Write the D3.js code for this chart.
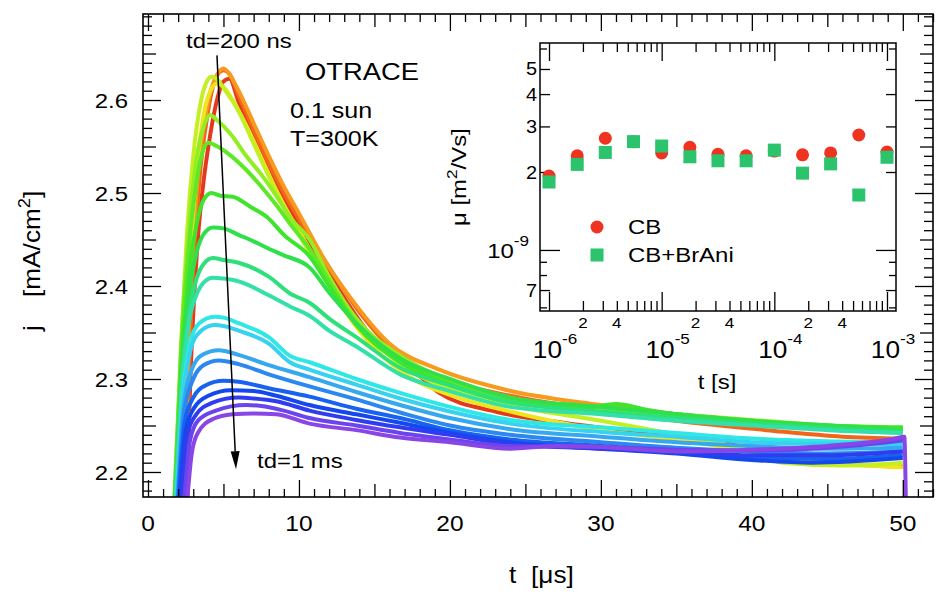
<!DOCTYPE html>
<html>
<head>
<meta charset="utf-8">
<script src="https://cdn.jsdelivr.net/npm/d3@7"></script>
<style>
body { margin: 0; background: #fff; }
text { font-family: "Liberation Sans", Arial, Helvetica, sans-serif; fill: #000; }
</style>
</head>
<body>
<div id="chart"></div>
<script>
// transient photocurrent, one trace per delay time td (200 ns ... 1 ms)
var curveColors = ["#e5391b", "#f2661c", "#f79a1e", "#f0e41f", "#c4f021", "#92ee22", "#5fe824",
    "#3fe42c", "#2fe04a", "#2ee07a", "#32e0a8", "#2ee8e6", "#37d2f0", "#35a8ef", "#2a88f0",
    "#1862f0", "#1448ef", "#2f3cf0", "#6a45ee", "#8a45e6"]

var curves = [
  [[2.62,2.17],[2.75,2.27],[3.0,2.37],[3.3,2.45],[3.7,2.515],[4.0,2.55],[4.5,2.595],[5.0,2.62],[5.4,2.623],[6,2.598],[7,2.56],[8,2.525],[9,2.495],[10,2.467],[12,2.413],[14.7,2.348],[17.8,2.306],[19.3,2.285],[23,2.265],[27.5,2.253],[33,2.242],[38,2.232],[41,2.22],[45,2.21],[50,2.206]],
  [[2.5,2.17],[2.75,2.32],[3.0,2.42],[3.5,2.53],[4.0,2.59],[4.5,2.624],[5.0,2.632],[5.4,2.628],[6,2.605],[7,2.568],[8,2.532],[9,2.50],[10,2.472],[12,2.42],[14,2.372],[16,2.335],[18,2.312],[20,2.298],[24,2.282],[30,2.266],[35,2.255],[41,2.245],[46,2.238],[50,2.236]],
  [[2.4,2.17],[2.7,2.35],[3.0,2.45],[3.5,2.55],[4.0,2.60],[4.6,2.628],[5.0,2.634],[5.5,2.625],[6,2.61],[7,2.575],[8,2.54],[9,2.507],[10,2.478],[12,2.42],[13.2,2.392],[16,2.338],[19.3,2.31],[23.8,2.288],[30,2.272],[35,2.262],[40,2.253],[45,2.247],[50,2.245]],
  [[2.2,2.17],[2.45,2.30],[2.7,2.40],[3.2,2.52],[3.7,2.585],[4.2,2.612],[4.6,2.618],[5.0,2.614],[5.5,2.603],[6.5,2.573],[7.5,2.538],[8.5,2.503],[9.4,2.475],[10.5,2.445],[12,2.40],[14,2.352],[16,2.318],[18,2.296],[20,2.283],[24,2.265],[30,2.245],[35,2.235],[40,2.222],[45,2.21],[50,2.205]],
  [[1.8,2.17],[2.2,2.33],[2.6,2.46],[3.0,2.54],[3.5,2.598],[3.9,2.62],[4.2,2.625],[4.6,2.622],[5,2.613],[6,2.588],[7,2.553],[8,2.518],[9,2.485],[10,2.455],[12,2.405],[14,2.36],[16,2.325],[18,2.303],[20,2.29],[24,2.272],[30,2.255],[35,2.24],[40,2.222],[42,2.21],[46,2.207],[50,2.21]],
  [[1.75,2.17],[2.2,2.34],[2.7,2.46],[3.2,2.535],[3.7,2.572],[4.1,2.584],[4.6,2.578],[5.5,2.563],[6.5,2.54],[7.5,2.52],[8.5,2.497],[9.5,2.472],[10.7,2.45],[12,2.41],[13.8,2.365],[16.7,2.325],[20,2.298],[24,2.28],[30,2.268],[35,2.262],[40,2.256],[45,2.25],[50,2.246]],
  [[1.75,2.17],[2.2,2.33],[2.7,2.44],[3.2,2.51],[3.6,2.543],[4.0,2.554],[4.6,2.55],[5.5,2.54],[6.5,2.525],[7.5,2.507],[8.5,2.487],[9.5,2.465],[10.7,2.44],[12,2.405],[13.8,2.36],[16.7,2.322],[20,2.296],[24,2.278],[30,2.27],[35,2.262],[40,2.255],[45,2.25],[50,2.247]],
  [[1.8,2.17],[2.2,2.31],[2.7,2.41],[3.2,2.465],[3.7,2.493],[4.2,2.50],[4.8,2.497],[5.6,2.496],[6.8,2.485],[7.9,2.474],[9,2.455],[10.7,2.432],[12,2.40],[13.8,2.358],[16.7,2.318],[20,2.294],[24,2.275],[29,2.269],[31,2.273],[33,2.267],[40,2.254],[45,2.25],[50,2.248]],
  [[1.8,2.17],[2.2,2.30],[2.7,2.39],[3.2,2.435],[3.7,2.456],[4.3,2.463],[5,2.462],[6,2.455],[7,2.448],[8,2.44],[9,2.433],[10.7,2.42],[12,2.393],[13.8,2.36],[16.7,2.322],[20,2.3],[24,2.28],[30,2.27],[35,2.262],[40,2.255],[45,2.25],[50,2.245]],
  [[1.85,2.17],[2.2,2.29],[2.7,2.37],[3.2,2.407],[3.7,2.424],[4.3,2.43],[5,2.428],[6,2.425],[8,2.41],[9.4,2.392],[10.7,2.382],[12,2.365],[13.8,2.345],[16.7,2.312],[20,2.293],[24,2.275],[30,2.265],[35,2.258],[40,2.252],[45,2.247],[50,2.243]],
  [[1.85,2.17],[2.2,2.28],[2.7,2.36],[3.2,2.39],[3.7,2.404],[4.3,2.409],[5,2.408],[6,2.405],[8,2.39],[9.4,2.378],[10.7,2.368],[12,2.352],[13.8,2.335],[16.7,2.305],[20,2.287],[24,2.27],[30,2.262],[35,2.255],[40,2.25],[45,2.245],[50,2.242]],
  [[1.9,2.17],[2.3,2.28],[2.8,2.34],[3.4,2.36],[4.4,2.367],[5,2.366],[6,2.36],[8,2.345],[9.4,2.325],[10.7,2.318],[13.8,2.30],[16.7,2.285],[20,2.27],[24,2.256],[30,2.248],[35,2.242],[40,2.236],[45,2.233],[50,2.232]],
  [[1.9,2.17],[2.3,2.275],[2.8,2.33],[3.4,2.35],[4.4,2.358],[5,2.357],[6,2.352],[8,2.338],[9.4,2.318],[10.7,2.31],[13.8,2.294],[16.7,2.279],[20,2.265],[24,2.252],[30,2.243],[35,2.238],[40,2.232],[45,2.23],[50,2.23]],
  [[1.95,2.17],[2.35,2.27],[2.9,2.31],[3.6,2.326],[4.7,2.331],[6,2.326],[8,2.315],[10.7,2.302],[13.8,2.286],[16.7,2.272],[20,2.258],[24,2.246],[30,2.238],[35,2.232],[40,2.228],[45,2.225],[50,2.226]],
  [[2.0,2.17],[2.4,2.265],[3.0,2.30],[3.7,2.315],[4.7,2.32],[6,2.316],[8,2.305],[10.7,2.292],[13.8,2.278],[16.7,2.264],[20,2.25],[24,2.24],[30,2.232],[35,2.226],[40,2.222],[45,2.22],[50,2.222]],
  [[2.0,2.17],[2.45,2.255],[3.0,2.28],[3.8,2.293],[5.0,2.298],[6,2.297],[8,2.29],[10.7,2.281],[13.8,2.268],[16.7,2.258],[20,2.245],[24,2.235],[30,2.228],[35,2.222],[40,2.216],[45,2.214],[50,2.218]],
  [[2.1,2.17],[2.5,2.245],[3.1,2.27],[4.0,2.282],[5.5,2.288],[7,2.287],[8.5,2.282],[10.7,2.272],[13.8,2.262],[16.7,2.253],[20,2.242],[24,2.232],[30,2.225],[35,2.22],[40,2.213],[44,2.21],[50,2.215]],
  [[2.2,2.17],[2.6,2.24],[3.2,2.262],[4.2,2.274],[6.0,2.28],[7,2.279],[8.5,2.276],[10.7,2.266],[13.8,2.256],[16.7,2.248],[20,2.24],[24,2.23],[30,2.225],[35,2.222],[40,2.218],[45,2.218],[50,2.222]],
  [[2.4,2.17],[2.8,2.235],[3.3,2.255],[4.5,2.266],[6.5,2.272],[7.5,2.271],[9,2.266],[10.7,2.258],[13.8,2.25],[16.7,2.242],[20,2.235],[24,2.228],[30,2.227],[35,2.224],[40,2.223],[45,2.226],[49,2.232],[50,2.234]],
  [[2.6,2.17],[2.9,2.22],[3.3,2.242],[4.3,2.257],[5.6,2.262],[7.0,2.263],[8.5,2.262],[10.7,2.252],[13.8,2.245],[16.7,2.237],[20,2.232],[24,2.225],[27,2.228],[30,2.227],[35,2.222],[40,2.224],[45,2.228],[49.5,2.236],[50.1,2.238],[50.2,2.17]]
]

// inset: mobility vs delay time
var insetT = [1e-6, 1.78e-6, 3.16e-6, 5.62e-6, 1e-5, 1.78e-5, 3.16e-5, 5.62e-5, 1e-4, 1.78e-4, 3.16e-4, 5.62e-4, 1e-3]
var muCB = [1.93e-9, 2.31e-9, 2.70e-9, 2.62e-9, 2.37e-9, 2.49e-9, 2.34e-9, 2.31e-9, 2.41e-9, 2.33e-9, 2.37e-9, 2.78e-9, 2.39e-9]
var muBrAni = [1.83e-9, 2.14e-9, 2.38e-9, 2.62e-9, 2.52e-9, 2.29e-9, 2.21e-9, 2.21e-9, 2.43e-9, 1.98e-9, 2.15e-9, 1.63e-9, 2.28e-9]

var xTickLabels = [0, 10, 20, 30, 40, 50]
var yTickLabels = [2.2, 2.3, 2.4, 2.5, 2.6]
var insetYLabels = [[7e-10, "7"], [2e-9, "2"], [3e-9, "3"], [4e-9, "4"], [5e-9, "5"]]
var insetDecades = [1e-6, 1e-5, 1e-4, 1e-3]

var width = 939, height = 595
var sx = 1.14   // the lettering in the figure is a bit wide

var svg = d3.select("#chart").append("svg")
    .attr("width", width).attr("height", height)
svg.append("rect").attr("width", width).attr("height", height).style("fill", "white")

function label(parent, x, y, str, o) {
  o = o || {}
  var t = parent.append("text")
      .attr("transform", "translate(" + x + "," + y + ")" + (o.rotate ? " rotate(" + o.rotate + ")" : "") + " scale(" + sx + ",1)")
      .attr("text-anchor", o.anchor || "start")
      .style("font-size", (o.size || 21) + "px")
  var parts = str.split(/\^\{|\}/)
  var rise = o.rise || 9
  parts.forEach(function(p, i) {
    if (p === "") return
    var ts = t.append("tspan").text(p)
    if (i % 2 == 1) {
      ts.attr("dy", -rise).style("font-size", (o.supSize || 15) + "px")
    } else if (i > 0) {
      ts.attr("dy", rise)
    }
  })
  return t
}

// ---------- main plot ----------
var x = d3.scaleLinear().domain([-0.33, 52]).range([143, 933])
var y = d3.scaleLinear().domain([2.1731, 2.6925]).range([497, 14])

svg.append("clipPath").attr("id", "plotClip").append("rect")
    .attr("x", 143).attr("y", 14).attr("width", 790).attr("height", 483)

var line = d3.line().x(function(d) { return x(d[0]) }).y(function(d) { return y(d[1]) })
    .curve(d3.curveMonotoneX)

svg.append("g").attr("clip-path", "url(#plotClip)")
  .selectAll("path").data(curves).join("path")
    .attr("d", line)
    .style("fill", "none")
    .style("stroke", function(d, i) { return curveColors[i] })
    .style("stroke-width", 4)
    .style("stroke-linejoin", "round")

function ticks(axis, pos, vals, len) {
  var g = svg.append("g")
      .attr("transform", pos)
      .call(axis.tickValues(vals).tickSize(-len).tickFormat(""))
  g.select(".domain").remove()
  g.selectAll("line").style("stroke", "#000").style("stroke-width", 1.3)
}

var xMinor = d3.range(0, 53).filter(function(v) { return v % 5 != 0 })
var xMid = [5, 15, 25, 35, 45]
var yMinor = d3.range(218, 270).filter(function(v) { return v % 5 != 0 }).map(function(v) { return v / 100 })
var yMid = [2.25, 2.35, 2.45, 2.55, 2.65]

ticks(d3.axisBottom(x), "translate(0,497)", xMinor, 8)
ticks(d3.axisBottom(x), "translate(0,497)", xMid, 13)
ticks(d3.axisBottom(x), "translate(0,497)", xTickLabels, 17)
ticks(d3.axisTop(x), "translate(0,14)", xMinor, 8)
ticks(d3.axisTop(x), "translate(0,14)", xMid, 13)
ticks(d3.axisTop(x), "translate(0,14)", xTickLabels, 17)
ticks(d3.axisLeft(y), "translate(143,0)", yMinor, 9)
ticks(d3.axisLeft(y), "translate(143,0)", yMid, 13)
ticks(d3.axisLeft(y), "translate(143,0)", yTickLabels, 18)
ticks(d3.axisRight(y), "translate(933,0)", yMinor, 9)
ticks(d3.axisRight(y), "translate(933,0)", yMid, 13)
ticks(d3.axisRight(y), "translate(933,0)", yTickLabels, 18)

svg.append("rect").attr("x", 143).attr("y", 14).attr("width", 790).attr("height", 483)
    .style("fill", "none").style("stroke", "#000").style("stroke-width", 1.6)

xTickLabels.forEach(function(v) { label(svg, x(v), 531, String(v), {anchor: "middle", size: 21.5}) })
yTickLabels.forEach(function(v) { label(svg, 128, y(v) + 8, v.toFixed(1), {anchor: "end", size: 21}) })

label(svg, 509, 583, "t", {size: 23})
label(svg, 531, 583, "[\u03bcs]", {size: 23})
label(svg, 40, 331, "j", {size: 23, rotate: -90})
label(svg, 40, 297, "[mA/cm^{2}]", {size: 23, rotate: -90, supSize: 16, rise: 10})

// annotations
label(svg, 186, 48, "td=200 ns", {size: 21})
label(svg, 305, 80, "OTRACE", {size: 24})
label(svg, 290, 118, "0.1 sun", {size: 22})
label(svg, 290, 146, "T=300K", {size: 22})
label(svg, 257, 468, "td=1 ms", {size: 21})

var a0 = [x(4.57), y(2.648)], a1 = [x(5.83), y(2.203)]
var ang = Math.atan2(a1[1] - a0[1], a1[0] - a0[0])
var headLen = 18, headW = 4.5
var hb = [a1[0] - headLen * Math.cos(ang), a1[1] - headLen * Math.sin(ang)]
svg.append("line")
    .attr("x1", a0[0]).attr("y1", a0[1]).attr("x2", hb[0]).attr("y2", hb[1])
    .style("stroke", "#000").style("stroke-width", 1.5)
svg.append("path")
    .attr("d", "M" + a1 + "L" + [hb[0] + headW * Math.sin(ang), hb[1] - headW * Math.cos(ang)] +
          "L" + [hb[0] - headW * Math.sin(ang), hb[1] + headW * Math.cos(ang)] + "Z")
    .style("fill", "#000")

// ---------- inset ----------
var xi = d3.scaleLog().domain([Math.pow(10, -6.08), Math.pow(10, -2.92)]).range([540, 896])
var yi = d3.scaleLog().domain([5.81e-10, 6.3e-9]).range([311, 43])

svg.append("rect").attr("x", 540).attr("y", 43).attr("width", 356).attr("height", 268)
    .style("fill", "white")

var xiMinor = []
insetDecades.forEach(function(d) { d3.range(2, 10).forEach(function(k) { if (d * k < 1.2e-3) xiMinor.push(d * k) }) })
var yiMid = insetYLabels.map(function(d) { return d[0] })
var yiMinor = [6e-10, 8e-10, 9e-10, 6e-9]

function iticks(axis, pos, vals, len) {
  var g = svg.append("g")
      .attr("transform", pos)
      .call(axis.tickValues(vals).tickSize(-len).tickFormat(""))
  g.select(".domain").remove()
  g.selectAll("line").style("stroke", "#000").style("stroke-width", 1.3)
}
iticks(d3.axisBottom(xi), "translate(0,311)", xiMinor, 10)
iticks(d3.axisBottom(xi), "translate(0,311)", insetDecades, 19)
iticks(d3.axisTop(xi), "translate(0,43)", xiMinor, 9)
iticks(d3.axisTop(xi), "translate(0,43)", insetDecades, 18)
iticks(d3.axisLeft(yi), "translate(540,0)", yiMinor, 7)
iticks(d3.axisLeft(yi), "translate(540,0)", yiMid, 10)
iticks(d3.axisLeft(yi), "translate(540,0)", [1e-9], 20)
iticks(d3.axisRight(yi), "translate(896,0)", yiMinor, 7)
iticks(d3.axisRight(yi), "translate(896,0)", yiMid, 10)
iticks(d3.axisRight(yi), "translate(896,0)", [1e-9], 20)

svg.append("rect").attr("x", 540).attr("y", 43).attr("width", 356).attr("height", 268)
    .style("fill", "none").style("stroke", "#000").style("stroke-width", 1.5)

insetYLabels.forEach(function(d) { label(svg, 537, yi(d[0]) + 6.5, d[1], {anchor: "end", size: 17.5}) })
label(svg, 529, yi(1e-9) + 8, "10^{-9}", {anchor: "end", size: 21, supSize: 15, rise: 12})

var smallLab = []
insetDecades.slice(0, 3).forEach(function(d) { smallLab.push([2 * d, "2"], [4 * d, "4"]) })
smallLab.forEach(function(d) { label(svg, xi(d[0]), 328, d[1], {anchor: "middle", size: 15}) })
insetDecades.forEach(function(d) {
  label(svg, xi(d) + 6, 358, "10^{" + Math.round(Math.log10(d)) + "}", {anchor: "middle", size: 23, supSize: 15, rise: 14})
})
label(svg, 717, 389, "t [s]", {anchor: "middle", size: 21})
label(svg, 466, 226, "\u03bc [m^{2}/Vs]", {rotate: -90, size: 21, supSize: 15, rise: 9})

var red = "#ee3420", green = "#2cc36d"
svg.append("g").selectAll("circle").data(insetT).join("circle")
    .attr("cx", function(d) { return xi(d) })
    .attr("cy", function(d, i) { return yi(muCB[i]) })
    .attr("r", 6.5).style("fill", red)
svg.append("g").selectAll("rect").data(insetT).join("rect")
    .attr("x", function(d) { return xi(d) - 6.5 })
    .attr("y", function(d, i) { return yi(muBrAni[i]) - 6.5 })
    .attr("width", 13).attr("height", 13).style("fill", green)

// legend
svg.append("circle").attr("cx", 597).attr("cy", 227).attr("r", 6.5).style("fill", red)
svg.append("rect").attr("x", 590.5).attr("y", 248.5).attr("width", 13).attr("height", 13).style("fill", green)
label(svg, 628, 234, "CB", {size: 21})
label(svg, 628, 262, "CB+BrAni", {size: 21})
</script>
</body>
</html>
